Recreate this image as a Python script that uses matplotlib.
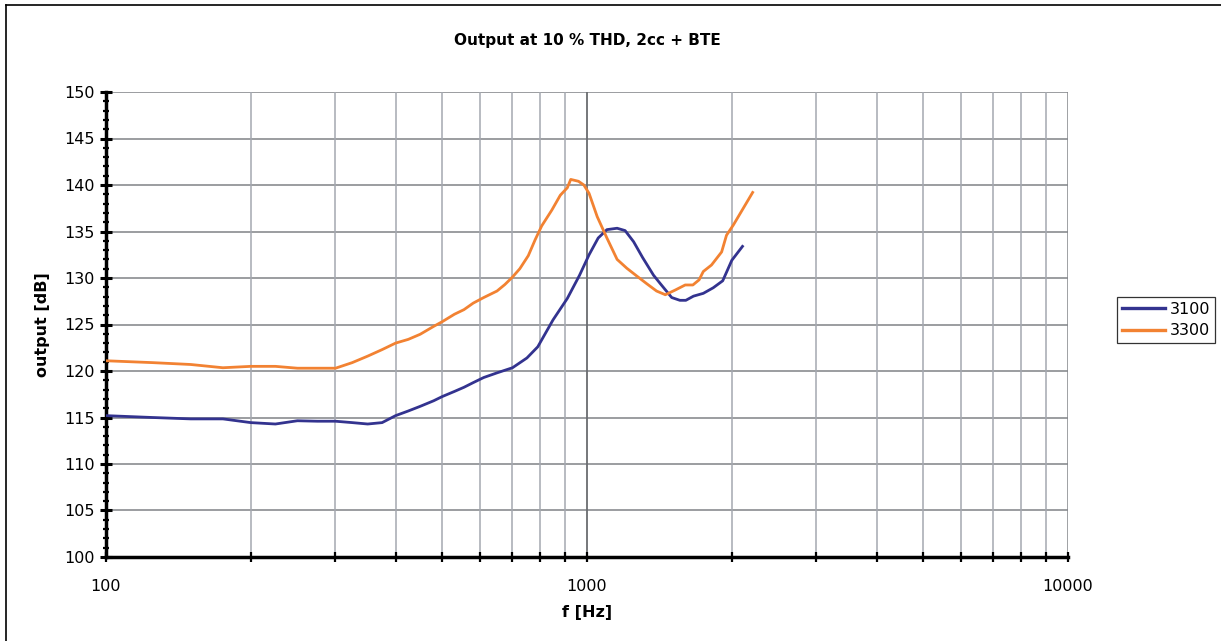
import matplotlib
matplotlib.use("Agg")
import matplotlib.pyplot as plt
from matplotlib.ticker import LogLocator, FixedLocator, MultipleLocator, NullFormatter
from matplotlib.lines import Line2D

# measured output at 10 % THD (2cc coupler + BTE)
f_3100 = [100, 125, 150, 175, 200, 225, 250, 275, 300, 325, 350, 375, 400, 425,
          450, 480, 500, 530, 555, 580, 610, 650, 700, 750, 790, 850, 910, 965,
          1010, 1055, 1100, 1155, 1200, 1250, 1305, 1375, 1420, 1500, 1560, 1605,
          1665, 1745, 1830, 1915, 2000, 2105]
db_3100 = [115.2, 115.0, 114.85, 114.85, 114.45, 114.3, 114.65, 114.6, 114.6, 114.45,
           114.3, 114.45, 115.2, 115.7, 116.2, 116.8, 117.25, 117.8, 118.25, 118.75,
           119.3, 119.8, 120.35, 121.4, 122.6, 125.5, 127.8, 130.3, 132.5, 134.3,
           135.2, 135.35, 135.1, 133.9, 132.2, 130.3, 129.4, 127.9, 127.6, 127.6,
           128.05, 128.35, 128.95, 129.7, 131.9, 133.4]

f_3300 = [100, 125, 150, 175, 200, 225, 250, 275, 300, 325, 350, 375, 400, 425,
          450, 480, 500, 530, 555, 580, 610, 650, 675, 700, 725, 755, 780, 805,
          845, 880, 910, 925, 960, 985, 1010, 1050, 1100, 1155, 1210, 1270, 1330,
          1395, 1455, 1525, 1600, 1660, 1710, 1745, 1815, 1905, 1950, 2015, 2210]
db_3300 = [121.1, 120.9, 120.7, 120.35, 120.5, 120.5, 120.3, 120.3, 120.3, 120.9,
           121.6, 122.3, 123.0, 123.4, 123.95, 124.8, 125.3, 126.1, 126.6, 127.3,
           127.9, 128.6, 129.3, 130.1, 131.0, 132.4, 134.1, 135.6, 137.3, 138.9,
           139.7, 140.6, 140.4, 140.0, 139.1, 136.6, 134.3, 132.0, 131.05, 130.2,
           129.4, 128.6, 128.2, 128.7, 129.25, 129.25, 129.8, 130.7, 131.4, 132.8,
           134.6, 135.7, 139.2]

series_names = ["3100", "3300"]
blue = "#33338f"
orange = "#f28232"

plt.rcParams["font.family"] = ["DejaVu Sans"]

fig = plt.figure(figsize=(12.21, 6.41), dpi=100)
ax = fig.add_axes([106 / 1221, 1 - 557 / 641, (1068 - 106) / 1221, (557 - 92) / 641])

ax.plot(f_3100, db_3100, color=blue, lw=2.0, label=series_names[0], zorder=3)
ax.plot(f_3300, db_3300, color=orange, lw=2.0, label=series_names[1], zorder=3)

ax.set_xscale("log")
ax.set_xlim(100, 10000)
ax.set_ylim(100, 150)

ax.xaxis.set_major_locator(FixedLocator([100, 1000, 10000]))
ax.xaxis.set_major_formatter(matplotlib.ticker.FixedFormatter(["100", "1000", "10000"]))
ax.xaxis.set_minor_locator(LogLocator(base=10, subs=range(2, 10)))
ax.xaxis.set_minor_formatter(NullFormatter())
ax.yaxis.set_major_locator(MultipleLocator(5))
ax.yaxis.set_minor_locator(MultipleLocator(1))

# grid
for y in range(105, 151, 5):
    ax.axhline(y, color="#808286", lw=1.1, zorder=1)
for d in (100, 1000):
    for k in range(2, 10):
        ax.axvline(d * k, color="#a4a8b0", lw=1.1, zorder=1)
ax.axvline(1000, color="#6a6c70", lw=1.3, zorder=1)
ax.axvline(10000, color="#85878c", lw=1.1, zorder=1)

for s in ("top", "right"):
    ax.spines[s].set_visible(False)
ax.spines["left"].set_linewidth(2.5)
ax.spines["bottom"].set_linewidth(2.5)

ax.tick_params(axis="y", which="major", direction="inout", length=8, width=2.2,
               labelsize=11.5, pad=4, colors="black")
ax.tick_params(axis="y", which="minor", direction="inout", length=5, width=1.6)
ax.tick_params(axis="x", which="both", direction="inout", length=7, width=1.6,
               labelsize=11.5, pad=12)
ax.tick_params(axis="x", which="minor", length=7)

ax.set_title("Output at 10 % THD, 2cc + BTE", fontsize=11, fontweight="bold", pad=34)
ax.set_xlabel("f [Hz]", fontsize=11.5, fontweight="bold", labelpad=8)
ax.set_ylabel("output [dB]", fontsize=11.5, fontweight="bold", labelpad=10)

handles = [Line2D([], [], color=blue, lw=2.4), Line2D([], [], color=orange, lw=2.4)]
leg = fig.legend(handles, series_names, loc="upper left",
                 bbox_to_anchor=(1117 / 1221, 1 - 297 / 641), fontsize=11.5,
                 frameon=True, fancybox=False, handlelength=2.7, handletextpad=0.3,
                 borderpad=0.3, labelspacing=0.4, borderaxespad=0)
leg.get_frame().set_edgecolor("black")
leg.get_frame().set_linewidth(0.9)

# chart frame
fig.add_artist(Line2D([6 / 1221, 6 / 1221], [0, 1 - 5 / 641], color="black", lw=1.2,
                      transform=fig.transFigure))
fig.add_artist(Line2D([6 / 1221, 1], [1 - 5 / 641, 1 - 5 / 641], color="black", lw=1.2,
                      transform=fig.transFigure))

fig.savefig("out.png", dpi=100)
